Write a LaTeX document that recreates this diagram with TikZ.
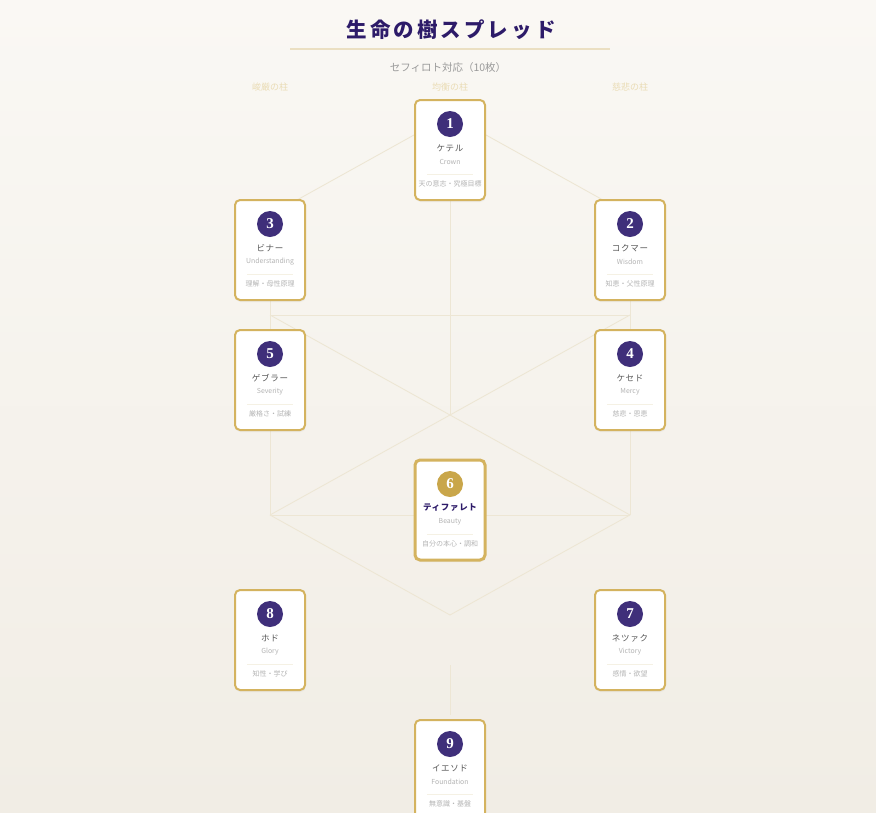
\documentclass[tikz,border=0pt]{standalone}
\usepackage{fontspec}
\setmainfont{Noto Sans CJK JP}
\newfontfamily\numfont{Liberation Serif}
\usetikzlibrary{shadows}
\definecolor{bgtop}{HTML}{FAF8F4}
\definecolor{bgbot}{HTML}{F1EDE5}
\definecolor{titlepurple}{HTML}{2D1B69}
\definecolor{circpurple}{HTML}{3F2F7A}
\definecolor{gold}{HTML}{D4B35F}
\definecolor{goldcirc}{HTML}{C9A64A}
\definecolor{treeline}{HTML}{EDE6D4}
\definecolor{ulcol}{HTML}{EBDFC2}
\definecolor{pillarcol}{HTML}{EADCB5}
\definecolor{subgray}{HTML}{9A9A9A}
\definecolor{namegray}{HTML}{555555}
\definecolor{lightgray}{HTML}{B4B4B4}
\definecolor{divcol}{HTML}{F5F1E4}
\tikzset{
  treepath/.style={draw=treeline, line width=0.9pt},
  cardbox/.style={rectangle, draw=gold, line width=2pt, fill=white, rounded corners=5pt,
    minimum width=70pt, minimum height=100pt, inner sep=0pt,
    drop shadow={opacity=0.08, shadow xshift=0.5pt, shadow yshift=-2pt}},
  cardmid/.style={cardbox, line width=3pt},
  numcirc/.style={circle, fill=circpurple, minimum size=26pt, inner sep=0pt, text=white,
    font=\numfont\bfseries\fontsize{15}{15}\selectfont},
  numcircmid/.style={numcirc, fill=goldcirc},
  jpname/.style={inner sep=0pt, text=namegray, font=\fontsize{8.5}{10}\selectfont\addfontfeatures{LetterSpace=8}},
  jpnamemid/.style={inner sep=0pt, text=titlepurple, font=\bfseries\fontsize{8.5}{10}\selectfont\addfontfeatures{LetterSpace=8}},
  enname/.style={inner sep=0pt, text=lightgray, font=\fontsize{6.9}{8}\selectfont},
  kwtext/.style={inner sep=0pt, text=lightgray, font=\fontsize{7}{8}\selectfont},
  divline/.style={draw=divcol, line width=1pt},
  pillar/.style={inner sep=0pt, text=pillarcol, font=\fontsize{9}{10}\selectfont},
}
% #1 id, #2 x, #3 top, #4 number, #5 jp name, #6 en name, #7 keywords
\newcommand\sephcard[7]{%
  \node[cardbox] (c#1) at (#2,#3+50) {};
  \node[numcirc] (n#1) at (#2,#3+24) {#4};
  \node[jpname] (j#1) at (#2,#3+48) {#5};
  \node[enname] (e#1) at (#2,#3+62) {#6};
  \coordinate (dl#1) at (#2-23,#3+74);
  \coordinate (dr#1) at (#2+23,#3+74);
  \draw[divline] (dl#1) -- (dr#1);
  \node[kwtext] (k#1) at (#2,#3+84) {#7};
}
\begin{document}
\begin{tikzpicture}[x=1pt,y=-1pt]
\useasboundingbox (0,0) rectangle (876,812);
\clip (0,0) rectangle (876,812);
\shade[top color=bgtop, bottom color=bgbot] (0,0) rectangle (876,812);

% title
\node[inner sep=0pt, text=titlepurple, font=\bfseries\fontsize{20.5}{24}\selectfont\addfontfeatures{LetterSpace=15}] (title) at (451,30) {生命の樹スプレッド};
\coordinate (ulA) at (290,49);
\coordinate (ulB) at (610,49);
\draw[draw=ulcol, line width=2pt] (ulA) -- (ulB);
\node[inner sep=0pt, text=subgray, font=\fontsize{10.5}{12}\selectfont] (sub) at (448,68) {セフィロト対応（10枚）};

% pillars
\node[pillar] (pl) at (270,87) {峻厳の柱};
\node[pillar] (pc) at (450,87) {均衡の柱};
\node[pillar] (pr) at (630,87) {慈悲の柱};

% tree paths
\coordinate (s1) at (450,115);
\coordinate (s2) at (630,215);
\coordinate (s3) at (270,215);
\coordinate (s4) at (630,315);
\coordinate (s5) at (270,315);
\coordinate (s6) at (450,415);
\coordinate (s7) at (630,515);
\coordinate (s8) at (270,515);
\coordinate (s9) at (450,615);
\coordinate (s10a) at (450,665);
\coordinate (s10b) at (450,715);
\draw[treepath] (s1) -- (s2);
\draw[treepath] (s1) -- (s3);
\draw[treepath] (s1) -- (s6);
\draw[treepath] (s2) -- (s4);
\draw[treepath] (s3) -- (s5);
\draw[treepath] (s4) -- (s5);
\draw[treepath] (s4) -- (s6);
\draw[treepath] (s5) -- (s6);
\draw[treepath] (s6) -- (s7);
\draw[treepath] (s6) -- (s8);
\draw[treepath] (s4) -- (s7);
\draw[treepath] (s5) -- (s8);
\draw[treepath] (s7) -- (s8);
\draw[treepath] (s7) -- (s9);
\draw[treepath] (s8) -- (s9);
\draw[treepath] (s10a) -- (s10b);

% cards
\sephcard{1}{450}{100}{1}{ケテル}{Crown}{天の意志・究極目標}
\sephcard{3}{270}{200}{3}{ビナー}{Understanding}{理解・母性原理}
\sephcard{2}{630}{200}{2}{コクマー}{Wisdom}{知恵・父性原理}
\sephcard{5}{270}{330}{5}{ゲブラー}{Severity}{厳格さ・試練}
\sephcard{4}{630}{330}{4}{ケセド}{Mercy}{慈悲・恩恵}
\sephcard{8}{270}{590}{8}{ホド}{Glory}{知性・学び}
\sephcard{7}{630}{590}{7}{ネツァク}{Victory}{感情・欲望}
\sephcard{9}{450}{720}{9}{イエソド}{Foundation}{無意識・基盤}

% central card 6
\node[cardmid] (c6) at (450,510) {};
\node[numcircmid] (n6) at (450,484) {6};
\node[jpnamemid] (j6) at (450,508) {ティファレト};
\node[enname] (e6) at (450,522) {Beauty};
\coordinate (dl6) at (427,534);
\coordinate (dr6) at (473,534);
\draw[divline] (dl6) -- (dr6);
\node[kwtext] (k6) at (450,544) {自分の本心・調和};
\end{tikzpicture}
\end{document}
